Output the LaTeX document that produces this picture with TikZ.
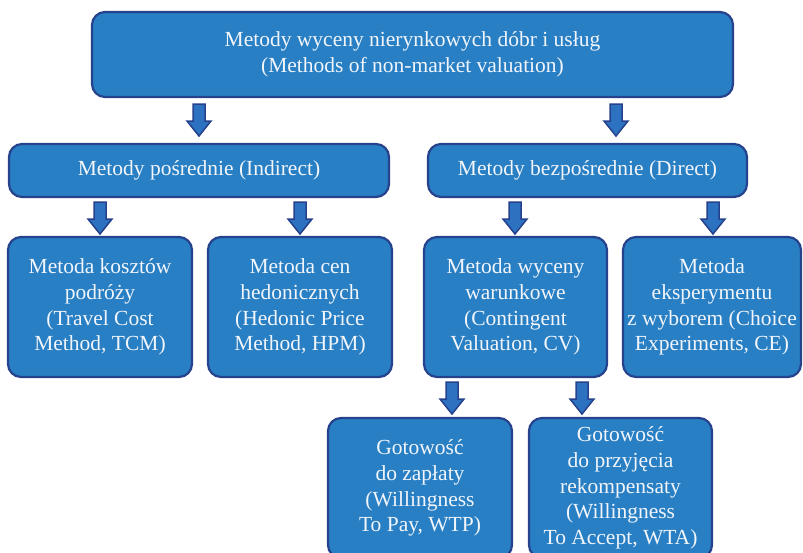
\documentclass[tikz,border=0pt]{standalone}
\usepackage{fontspec}
\setmainfont{Liberation Serif}
\definecolor{boxfill}{RGB}{40,127,196}
\definecolor{boxline}{RGB}{38,66,140}
\definecolor{arrfill}{RGB}{44,114,192}
\definecolor{txt}{RGB}{242,245,250}
\tikzset{
  box/.style={draw=boxline, fill=boxfill, line width=2.2pt, rounded corners=13pt,
    text=txt, align=center, font=\fontsize{21.5}{25.8}\selectfont, inner sep=0pt},
  barrow/.pic={\draw[draw=boxline, fill=arrfill, line width=1.5pt, line join=miter]
    (-6,0) -- (6,0) -- (6,17) -- (12,17) -- (0,32) -- (-12,17) -- (-6,17) -- cycle;}
}
\begin{document}
\begin{tikzpicture}[x=1pt,y=-1pt]
\useasboundingbox (0,0) rectangle (803,552);
\clip (0,0) rectangle (803,552);
\fill[white] (0,0) rectangle (803,552);
% level 1
\node[box, minimum width=641pt, minimum height=85pt] (top) at (412.5,54.5)
  {Metody wyceny nierynkowych dóbr i usług\\(Methods of non-market valuation)};
% level 2
\node[box, minimum width=380pt, minimum height=53pt] (ind) at (199,170.5)
  {Metody pośrednie (Indirect)};
\node[box, minimum width=319pt, minimum height=53pt] (dir) at (587.5,170.5)
  {Metody bezpośrednie (Direct)};
% level 3
\node[box, minimum width=184pt, minimum height=140pt] (tcm) at (100,307)
  {Metoda kosztów\\podróży\\(Travel Cost\\Method, TCM)};
\node[box, minimum width=184pt, minimum height=140pt] (hpm) at (300,307)
  {Metoda cen\\hedonicznych\\(Hedonic Price\\Method, HPM)};
\node[box, minimum width=183pt, minimum height=140pt] (cv) at (515.5,307)
  {Metoda wyceny\\warunkowe\\(Contingent\\Valuation, CV)};
\node[box, minimum width=178pt, minimum height=140pt] (ce) at (712,307)
  {Metoda\\eksperymentu\\z wyborem (Choice\\Experiments, CE)};
% level 4
\node[box, minimum width=184pt, minimum height=140pt] (wtp) at (420,488)
  {Gotowość\\do zapłaty\\(Willingness\\To Pay, WTP)};
\node[box, minimum width=183pt, minimum height=140pt] (wta) at (620.5,488)
  {Gotowość\\do przyjęcia\\rekompensaty\\(Willingness\\To Accept, WTA)};
% block arrows
\pic at (199,104) {barrow};
\pic at (616,104) {barrow};
\pic at (100,202) {barrow};
\pic at (300,202) {barrow};
\pic at (515,202) {barrow};
\pic at (713,202) {barrow};
\pic at (452,382) {barrow};
\pic at (582,382) {barrow};
\end{tikzpicture}
\end{document}
